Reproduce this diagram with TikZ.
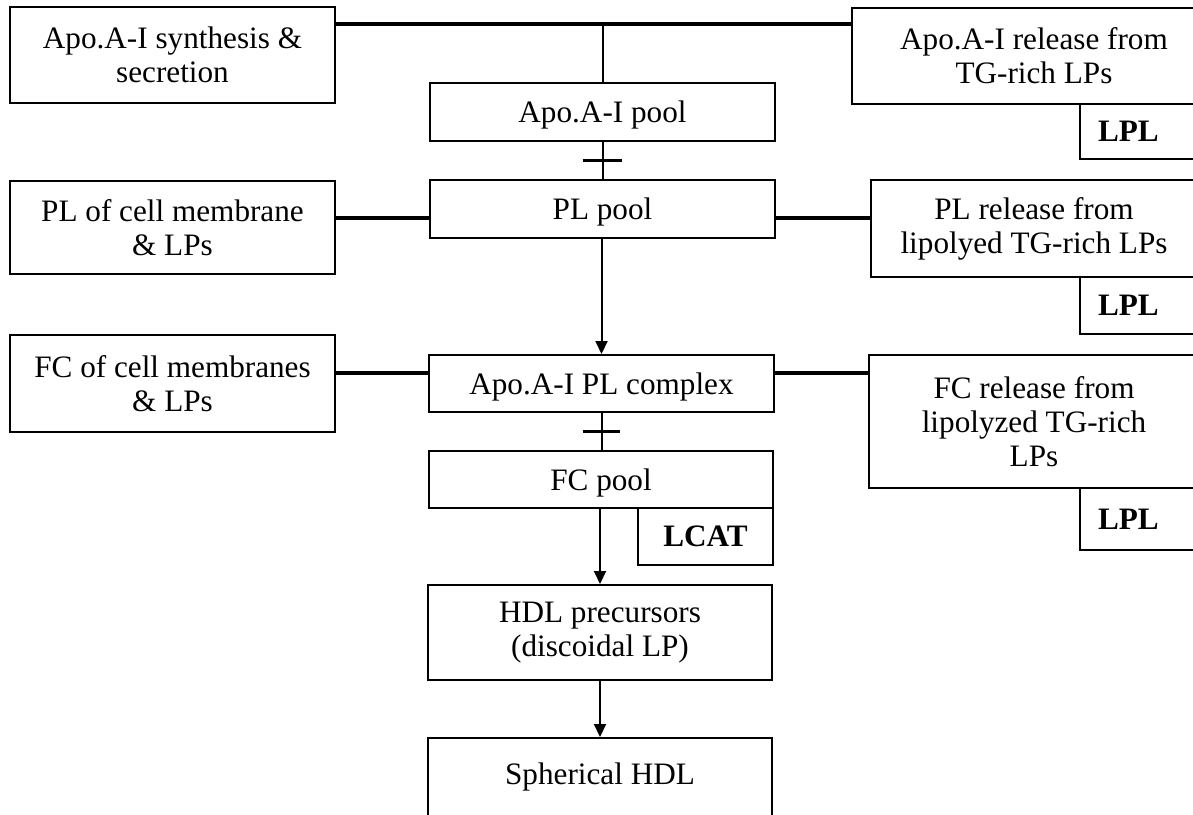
\documentclass[tikz,border=0pt]{standalone}
\usepackage{fontspec}
\setmainfont{Liberation Serif}
\usetikzlibrary{arrows.meta,calc}
\begin{document}
\begin{tikzpicture}[x=0.5pt,y=-0.5pt,
  box/.style={draw, line width=1pt, align=center, inner sep=0pt, font=\fontsize{15.6}{17}\selectfont},
  onebox/.style={draw, line width=1pt, inner sep=0pt, text depth=0pt, font=\fontsize{15.6}{17}\selectfont},
  lplbox/.style={draw, line width=1pt, align=left, inner ysep=0pt, inner xsep=9pt, text width=42pt, font=\fontsize{15.6}{17}\selectfont\bfseries},
  thickline/.style={line width=1.7pt},
  thinline/.style={line width=1pt},
  arr/.style={line width=1pt, -{Triangle[length=6.5pt,width=6pt]}},
  teebar/.style={line width=1.8pt}]
\useasboundingbox (0,0) rectangle (1193,814);
\clip (0,0) rectangle (1193,814);

% left column
\node[box, minimum width=162.5pt, minimum height=48pt] (A) at (172.5,55) {Apo.A-I synthesis \&\\secretion};
\node[box, minimum width=162.5pt, minimum height=46.5pt] (D) at (172.5,227.5) {PL of cell membrane\\\& LPs};
\node[box, minimum width=162.5pt, minimum height=48.5pt] (G) at (172.5,383.5) {FC of cell membranes\\\& LPs};

% centre column
\node[onebox, minimum width=172.5pt, minimum height=29pt] (B) at (602.5,112) {Apo.A-I pool};
\node[onebox, minimum width=172.5pt, minimum height=29pt] (E) at (602.5,209) {PL pool};
\node[onebox, minimum width=172.5pt, minimum height=28.5pt] (Cx) at (601.5,383.5) {Apo.A-I PL complex};
\node[onebox, minimum width=172pt, minimum height=28.5pt] (FC) at (601,479.5) {FC pool};
\node[onebox, minimum width=67.5pt, minimum height=28.5pt, font=\fontsize{15.6}{17}\selectfont\bfseries] (LCAT) at (705.5,536.5) {LCAT};
\node[box, minimum width=172pt, minimum height=47.5pt] (HDL) at (600,632.5) {HDL precursors\\(discoidal LP)};
\node[draw, line width=1pt, inner sep=0pt, anchor=base, text height=23pt, text depth=40pt, minimum width=172pt, font=\fontsize{15.6}{17}\selectfont] (sph) at (600,784) {Spherical HDL};

% right column
\node[box, minimum width=182pt, minimum height=48pt] (C) at (1034,56) {Apo.A-I release from\\TG-rich LPs};
\node[lplbox, minimum height=27.5pt] (L1) at (1140,131.5) {LPL};
\node[box, minimum width=163pt, minimum height=48.5pt] (F) at (1034,228.5) {PL release from\\lipolyed TG-rich LPs};
\node[lplbox, minimum height=28.5pt] (L2) at (1140,305.5) {LPL};
\node[box, minimum width=165pt, minimum height=66.5pt] (H) at (1034,421.5) {FC release from\\lipolyzed TG-rich\\LPs};
\node[lplbox, minimum height=31pt] (L3) at (1140,519) {LPL};

% level coordinates
\coordinate (topy) at (0,24);
\coordinate (ply) at (0,218);
\coordinate (cly) at (0,373);

% top line
\draw[thickline] (A.east |- topy) -- (C.west |- topy);
\draw[thinline] (B.north) -- (B.north |- topy);

% Apo pool to PL pool with bar
\draw[thinline] (B.south) -- (E.north);
\draw[teebar] ($(B.south)!0.5!(E.north)$) +(-20,0) -- +(19,0);

% PL level
\draw[thickline] (D.east |- ply) -- (E.west |- ply);
\draw[thickline] (E.east |- ply) -- (F.west |- ply);

% PL pool to complex
\draw[arr] (E.south -| Cx.north) -- (Cx.north);

% complex level
\draw[thickline] (G.east |- cly) -- (Cx.west |- cly);
\draw[thickline] (Cx.east |- cly) -- (H.west |- cly);

% complex to FC pool with bar
\draw[thinline] (Cx.south) -- (Cx.south |- FC.north);
\draw[teebar] ($(Cx.south)!0.5!(Cx.south |- FC.north)$) +(-19,0) -- +(18,0);

% FC pool to HDL precursors to spherical
\draw[arr] (FC.south -| HDL.north) -- (HDL.north);
\draw[arr] (HDL.south) -- (sph.north);
\end{tikzpicture}
\end{document}
